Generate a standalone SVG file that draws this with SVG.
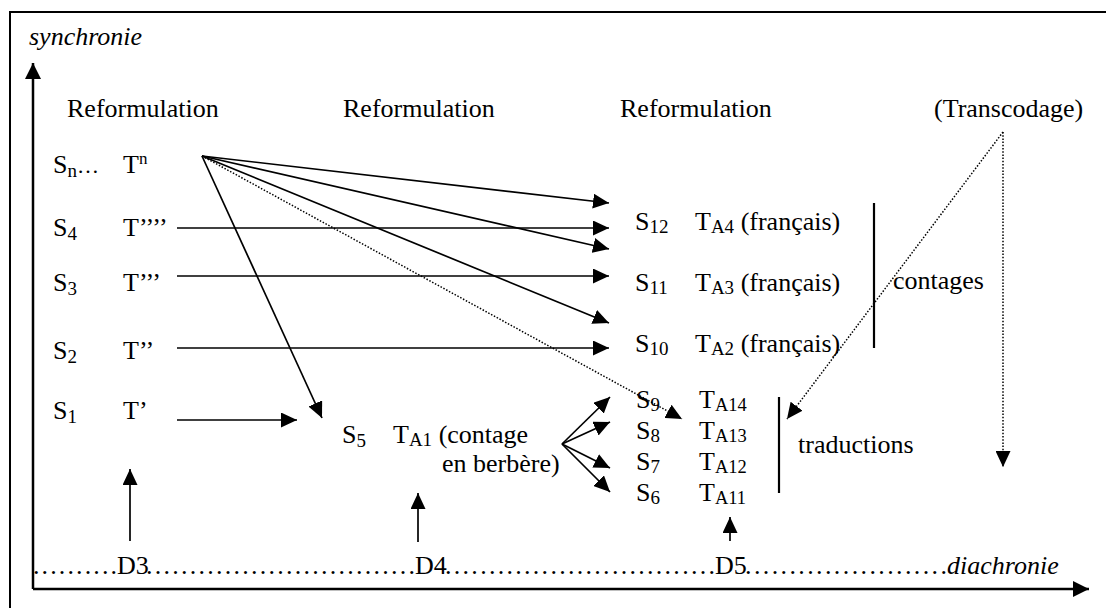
<svg xmlns="http://www.w3.org/2000/svg" width="1106" height="608" viewBox="0 0 1106 608">
<style>
text{font-family:"Liberation Serif","Times New Roman",serif;font-size:26px;fill:#000}
.it{font-style:italic}
.sub{font-size:19px}
.sub2{font-size:18.5px}
.ln{stroke:#000;stroke-width:1.7;fill:none}
.dot{stroke:#000;stroke-width:1.5;fill:none;stroke-dasharray:1.5 1.7}
.ax{stroke:#000;stroke-width:2.5;fill:none}
.bar{stroke:#000;stroke-width:2.2;fill:none}
</style>
<defs>
<marker id="ah" markerUnits="userSpaceOnUse" markerWidth="17" markerHeight="15" refX="16" refY="7.5" orient="auto">
<path d="M0,0 L16,7.5 L0,15 z" fill="#000"/>
</marker>
<marker id="ax" markerUnits="userSpaceOnUse" markerWidth="17" markerHeight="17" refX="16" refY="8" orient="auto">
<path d="M0,0 L16,8 L0,16 z" fill="#000"/>
</marker>
</defs>
<rect width="1106" height="608" fill="#fff"/>
<rect x="10" y="12" width="1200" height="700" fill="none" stroke="#000" stroke-width="2"/>

<g id="axes">
<line class="ax" x1="33" y1="589" x2="33" y2="63" marker-end="url(#ax)"/>
<line class="ax" x1="33" y1="589" x2="1089" y2="589" marker-end="url(#ax)"/>
<text class="it" x="29" y="45">synchronie</text>
</g>

<g id="headers">
<text x="67" y="117">Reformulation</text>
<text x="343" y="117">Reformulation</text>
<text x="620" y="117">Reformulation</text>
<text x="934" y="117">(Transcodage)</text>
</g>

<g id="left-column">
<g id="row-n"><text x="53" y="173">S<tspan class="sub" dy="4">n</tspan><tspan font-size="22" dy="-4">…</tspan></text><text x="123" y="173">T<tspan font-size="17" dy="-9">n</tspan></text></g>
<g id="row-4"><text x="53" y="236">S<tspan class="sub" dy="4">4</tspan></text><text x="123" y="236">T’’’’</text></g>
<g id="row-3"><text x="53" y="291">S<tspan class="sub" dy="4">3</tspan></text><text x="123" y="291">T’’’</text></g>
<g id="row-2"><text x="53" y="359">S<tspan class="sub" dy="4">2</tspan></text><text x="123" y="359">T’’</text></g>
<g id="row-1"><text x="53" y="419">S<tspan class="sub" dy="4">1</tspan></text><text x="123" y="419">T’</text></g>
</g>

<g id="node-s5">
<text x="342" y="443">S<tspan class="sub" dy="4">5</tspan></text>
<text x="393" y="443">T<tspan class="sub" dy="3">A1</tspan><tspan dy="-3"> (contage</tspan></text>
<text x="442" y="472">en berbère)</text>
</g>

<g id="contages-group">
<g id="s12"><text x="635" y="230">S<tspan class="sub" dy="3">12</tspan></text><text x="695" y="230">T<tspan class="sub" dy="3">A4</tspan><tspan dy="-3"> (français)</tspan></text></g>
<g id="s11"><text x="635" y="291">S<tspan class="sub" dy="3">11</tspan></text><text x="695" y="291">T<tspan class="sub" dy="3">A3</tspan><tspan dy="-3"> (français)</tspan></text></g>
<g id="s10"><text x="635" y="352">S<tspan class="sub" dy="3">10</tspan></text><text x="695" y="352">T<tspan class="sub" dy="3">A2</tspan><tspan dy="-3"> (français)</tspan></text></g>
<line class="bar" x1="874" y1="203" x2="874" y2="348"/>
<text x="893" y="289">contages</text>
</g>

<g id="traductions-group">
<g id="s9"><text x="636" y="408">S<tspan class="sub" dy="3">9</tspan></text><text x="699" y="408">T<tspan class="sub2" dy="3">A14</tspan></text></g>
<g id="s8"><text x="636" y="439">S<tspan class="sub" dy="3">8</tspan></text><text x="699" y="439">T<tspan class="sub2" dy="3">A13</tspan></text></g>
<g id="s7"><text x="636" y="470">S<tspan class="sub" dy="3">7</tspan></text><text x="699" y="470">T<tspan class="sub2" dy="3">A12</tspan></text></g>
<g id="s6"><text x="636" y="501">S<tspan class="sub" dy="3">6</tspan></text><text x="699" y="501">T<tspan class="sub2" dy="3">A11</tspan></text></g>
<line class="bar" x1="779" y1="397" x2="779" y2="493"/>
<text x="798" y="453">traductions</text>
</g>

<g id="timeline">
<text x="33" y="574" textLength="84" lengthAdjust="spacing">..........</text>
<text x="117" y="574">D3</text>
<text x="146" y="574" textLength="269" lengthAdjust="spacing">...............................</text>
<text x="415" y="574">D4</text>
<text x="445" y="574" textLength="270" lengthAdjust="spacing">...............................</text>
<text x="715" y="574">D5</text>
<text x="745" y="574" textLength="202" lengthAdjust="spacing">.......................</text>
<text class="it" x="947" y="574">diachronie</text>
</g>

<g id="connectors">
<line class="ln" x1="202" y1="156" x2="609" y2="203" marker-end="url(#ah)"/>
<line class="ln" x1="202" y1="156" x2="609" y2="249" marker-end="url(#ah)"/>
<line class="ln" x1="202" y1="156" x2="609" y2="323" marker-end="url(#ah)"/>
<line class="ln" x1="202" y1="156" x2="322" y2="418" marker-end="url(#ah)"/>
<line class="dot" x1="202" y1="156" x2="682" y2="419" marker-end="url(#ah)"/>
<line class="ln" x1="177" y1="228" x2="609" y2="228" marker-end="url(#ah)"/>
<line class="ln" x1="177" y1="276" x2="609" y2="276" marker-end="url(#ah)"/>
<line class="ln" x1="177" y1="348" x2="609" y2="348" marker-end="url(#ah)"/>
<line class="ln" x1="177" y1="420" x2="297" y2="420" marker-end="url(#ah)"/>
<line class="ln" x1="562" y1="444" x2="610" y2="397" marker-end="url(#ah)"/>
<line class="ln" x1="562" y1="444" x2="610" y2="422" marker-end="url(#ah)"/>
<line class="ln" x1="562" y1="444" x2="610" y2="468" marker-end="url(#ah)"/>
<line class="ln" x1="562" y1="444" x2="610" y2="492" marker-end="url(#ah)"/>
<line class="ln" x1="130" y1="541" x2="130" y2="469" marker-end="url(#ah)"/>
<line class="ln" x1="418" y1="542" x2="418" y2="493" marker-end="url(#ah)"/>
<line class="ln" x1="730" y1="541" x2="730" y2="517" marker-end="url(#ah)"/>
<line class="dot" x1="1003" y1="132" x2="787" y2="419" marker-end="url(#ah)"/>
<line class="dot" x1="1003" y1="132" x2="1003" y2="467" marker-end="url(#ah)"/>
</g>
</svg>
